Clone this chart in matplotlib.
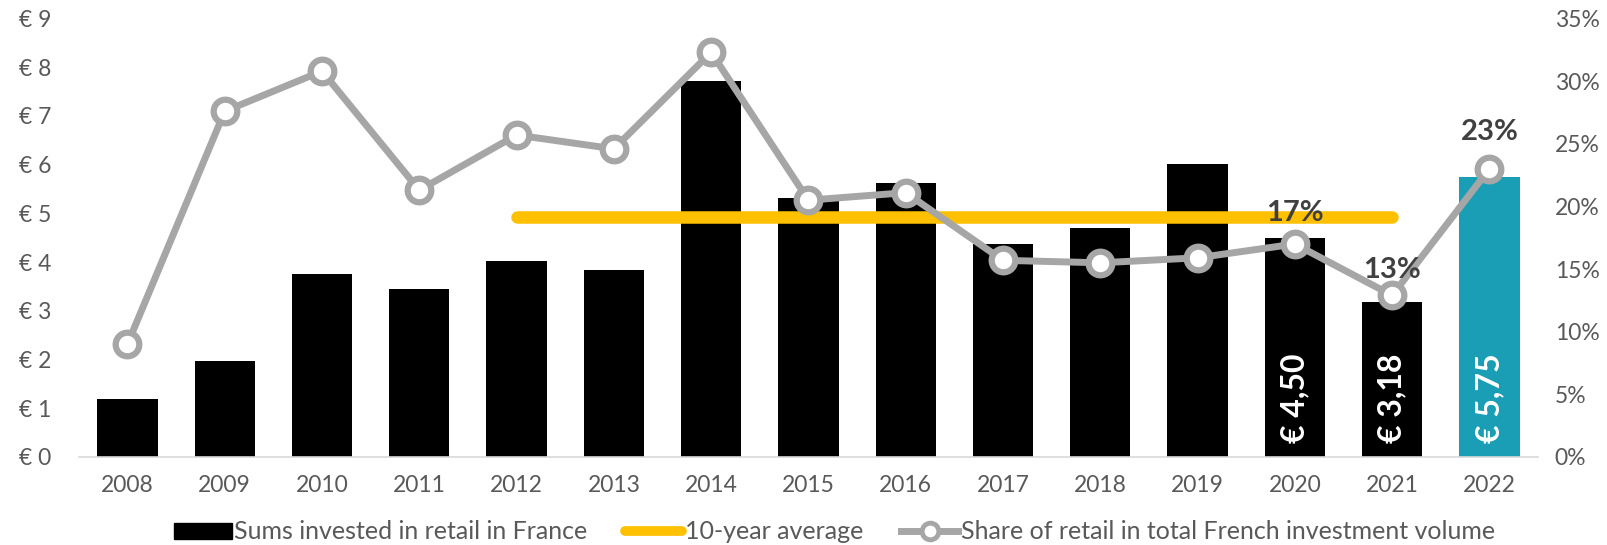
import matplotlib
matplotlib.use("Agg")
import matplotlib.pyplot as plt
from matplotlib.lines import Line2D
from matplotlib.patches import Patch

plt.rcParams['font.family'] = ['Lato', 'DejaVu Sans']

years = ['2008', '2009', '2010', '2011', '2012', '2013', '2014', '2015',
         '2016', '2017', '2018', '2019', '2020', '2021', '2022']
sums = [1.18, 1.96, 3.75, 3.45, 4.02, 3.83, 7.72, 5.32, 5.63, 4.37, 4.71, 6.01, 4.50, 3.18, 5.75]
share = [9.0, 27.6, 30.8, 21.3, 25.7, 24.6, 32.3, 20.5, 21.1, 15.7, 15.5, 15.9, 17.0, 12.9, 23.0]
avg_value = 4.93
avg_span = ['2012', '2021']
bar_labels = {'2020': '€ 4,50', '2021': '€ 3,18', '2022': '€ 5,75'}
pct_labels = {'2020': '17%', '2021': '13%', '2022': '23%'}
left_ticks = [0, 1, 2, 3, 4, 5, 6, 7, 8, 9]
right_ticks = [0, 5, 10, 15, 20, 25, 30, 35]

BLACK = '#000000'
TEAL = '#1a9eb5'
GOLD = '#ffc000'
GREY = '#a6a6a6'
TXT = '#595959'
DARK = '#404040'

fig = plt.figure(figsize=(16.08, 5.45), dpi=100)
ax = fig.add_axes([0.049, 0.1615, 0.9075, 0.8045])
ax2 = ax.twinx()

x = list(range(len(years)))
colors = [TEAL if y == '2022' else BLACK for y in years]
ax.bar(x, sums, width=0.62, color=colors, zorder=2)

i0, i1 = years.index(avg_span[0]), years.index(avg_span[1])
ax.plot([i0, i1], [avg_value, avg_value], color=GOLD, lw=9,
        solid_capstyle='round', zorder=3)

for yr, lab in bar_labels.items():
    i = years.index(yr)
    ax.text(i, 0.28, lab, rotation=90, ha='center', va='bottom', color='white',
            fontsize=23, fontweight='bold', zorder=4)

ax2.plot(x, share, color=GREY, lw=5, marker='o', markersize=17,
         markerfacecolor='white', markeredgecolor=GREY, markeredgewidth=4.5,
         zorder=5)
offsets = {'2020': 31, '2021': 25, '2022': 37}
for yr, lab in pct_labels.items():
    i = years.index(yr)
    ax2.annotate(lab, (i, share[i]), xytext=(0, offsets[yr]),
                 textcoords='offset pixels', ha='center', va='center',
                 fontsize=21, fontweight='bold', color=DARK, zorder=6)

ax.set_xlim(-0.5, len(years) - 0.5)
ax.set_ylim(0, 9)
ax2.set_ylim(0, 35)
ax.set_yticks(left_ticks)
ax.set_yticklabels([f'€ {v}' for v in left_ticks])
ax2.set_yticks(right_ticks)
ax2.set_yticklabels([f'{v}%' for v in right_ticks])
ax.set_xticks(x)
ax.set_xticklabels(years)

for a in (ax, ax2):
    for s in a.spines.values():
        s.set_visible(False)
    a.tick_params(length=0, labelsize=16.5, colors=TXT)
ax.spines['bottom'].set_visible(True)
ax.spines['bottom'].set_color('#d9d9d9')
ax.spines['bottom'].set_linewidth(1.2)
ax.tick_params(axis='y', pad=43)
ax.tick_params(axis='x', pad=13)
ax2.tick_params(axis='y', pad=12)
for lab in ax.get_yticklabels():
    lab.set_horizontalalignment('left')

handles = [
    Patch(facecolor=BLACK, edgecolor=BLACK),
    Line2D([0], [0], color=GOLD, lw=7, solid_capstyle='round'),
    Line2D([0], [0], color=GREY, lw=5, marker='o', markersize=12,
           markerfacecolor='white', markeredgecolor=GREY, markeredgewidth=3.5),
]
labels = ['Sums invested in retail in France', '10-year average',
          'Share of retail in total French investment volume']
leg = fig.legend(handles, labels, loc='center', bbox_to_anchor=(0.519, 0.024),
                 ncol=3, frameon=False, fontsize=18, handlelength=2.3,
                 handleheight=0.6, handletextpad=0.1, columnspacing=1.5,
                 labelcolor=TXT)

fig.savefig('out.png', dpi=100)
